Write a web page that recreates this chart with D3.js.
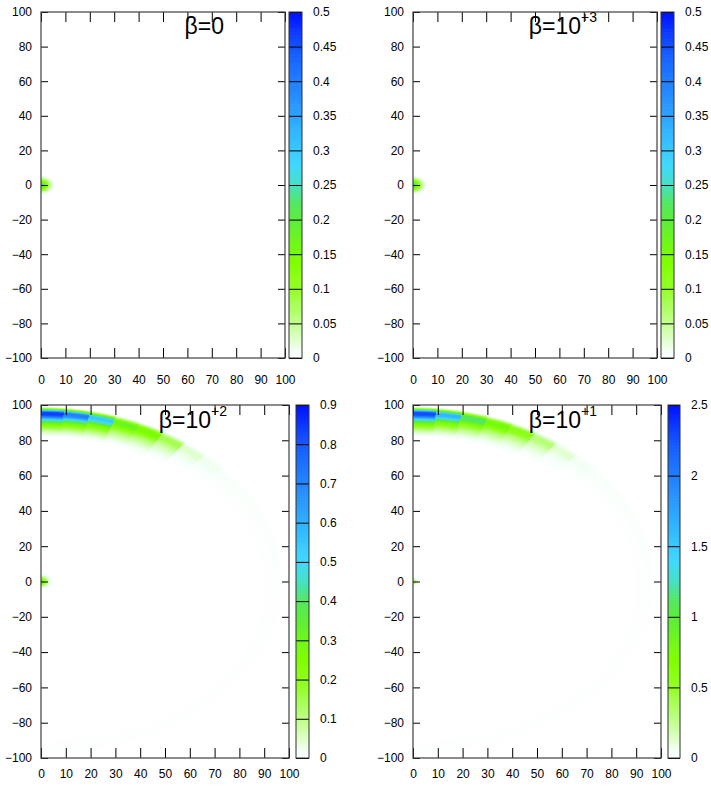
<!DOCTYPE html>
<html>
<head>
<meta charset="utf-8">
<script src="https://cdn.jsdelivr.net/npm/d3@7"></script>
<style>
body { margin: 0; background: #fff; }
text { font-family: "Liberation Sans", Arial, sans-serif; }
</style>
</head>
<body>
<div id="chart"></div>
<script>
// ejes y etiquetas
const xTickValues = [0, 10, 20, 30, 40, 50, 60, 70, 80, 90, 100]
const yTickValues = [-100, -80, -60, -40, -20, 0, 20, 40, 60, 80, 100]
const cbTicksA = [0, 0.05, 0.1, 0.15, 0.2, 0.25, 0.3, 0.35, 0.4, 0.45, 0.5]
const cbTicksC = [0, 0.1, 0.2, 0.3, 0.4, 0.5, 0.6, 0.7, 0.8, 0.9]
const cbTicksD = [0, 0.5, 1, 1.5, 2, 2.5]
const betaBase = ["0", "10", "10", "10"]
const betaExp = ["", "+3", "+2", "+1"]
const cbMax = [0.5, 0.5, 0.9, 2.5]

// mancha en el origen: valor segun distancia
const spotDist = [0, 1, 2, 3, 4, 5, 6]
const spotA = [0.45, 0.2, 0.15, 0.09, 0.04, 0.015, 0]
const spotB = [0.45, 0.2, 0.15, 0.09, 0.04, 0.015, 0]
const spotC = [0.5, 0.25, 0.15, 0.06, 0.02, 0.005, 0]
const spotD = [0.8, 0.3, 0.05, 0, 0, 0, 0]

// anillo: perfil radial y picos por sector angular (desde +y, cada 6.2 grados)
const ringRadius = 95
const ringBinStart = -0.7
const ringBinWidth = 6.2
const ringOffset = [-13, -10, -7, -5, -4, -3, -2, -1, 0, 1, 2, 3, 4]
const ringShape = [0, 0.08, 0.24, 0.4, 0.5, 0.63, 0.8, 0.95, 1, 0.95, 0.6, 0.2, 0]
const ringPeaksC = [0.85, 0.72, 0.55, 0.32, 0.27, 0.15, 0.05, 0.025, 0.014, 0.011, 0.009, 0.008,
    0.007, 0.007, 0.006, 0.006, 0.005, 0.005, 0.005, 0.004, 0.004, 0.004, 0.004, 0.004,
    0.004, 0.005, 0.005, 0.006, 0.006, 0.006]
const ringPeaksD = [2.3, 1.65, 1.15, 0.8, 0.6, 0.32, 0.13, 0.06, 0.035, 0.028, 0.024, 0.022,
    0.02, 0.019, 0.018, 0.017, 0.016, 0.015, 0.014, 0.013, 0.012, 0.012, 0.012, 0.012,
    0.012, 0.013, 0.014, 0.015, 0.016, 0.016]

// paleta
const cmapStops = [0, 0.02, 0.1, 0.2, 0.28, 0.38, 0.45, 0.5, 0.56, 0.65, 0.75, 0.85, 0.92, 1]
const cmapColors = ["#ffffff", "#f4fff8", "#c4ff94", "#94ff28", "#80ff00", "#62f030", "#52e862",
    "#48e0c2", "#40d8ff", "#32b8ff", "#2890ff", "#1a6cff", "#1048ff", "#0010ff"]
const cmap = d3.scaleLinear().domain(cmapStops).range(cmapColors).clamp(true)
const lut = d3.range(512).map(i => d3.rgb(cmap(i / 511)))

const width = 711
const height = 791

const panels = [
    {x0: 41, x1: 285, y0: 12, y1: 358, cb0: 289, cb1: 302, tx: 224, ty: 34, pad: 17,
        ticks: cbTicksA, spot: spotA, ring: null},
    {x0: 413, x1: 657, y0: 12, y1: 358, cb0: 661, cb1: 674, tx: 597, ty: 34, pad: 17,
        ticks: cbTicksA, spot: spotB, ring: null},
    {x0: 41, x1: 289, y0: 405, y1: 758, cb0: 296, cb1: 309, tx: 227, ty: 428, pad: 11,
        ticks: cbTicksC, spot: spotC, ring: ringPeaksC},
    {x0: 413, x1: 661, y0: 405, y1: 758, cb0: 668, cb1: 680, tx: 597, ty: 428, pad: 11,
        ticks: cbTicksD, spot: spotD, ring: ringPeaksD}
]

const svg = d3.select("#chart")
    .append("svg")
    .attr("width", width)
    .attr("height", height)

const shape = d3.scaleLinear().domain(ringOffset).range(ringShape).clamp(true)

panels.forEach((p, i) => {
    const max = cbMax[i]
    const x = d3.scaleLinear().domain([0, 100]).range([p.x0, p.x1])
    const y = d3.scaleLinear().domain([-100, 100]).range([p.y1, p.y0])
    const spot = d3.scaleLinear().domain(spotDist).range(p.spot).clamp(true)
    const g = svg.append("g").attr("class", "panel")

    // mapa de calor pixel a pixel
    const w = p.x1 - p.x0, h = p.y1 - p.y0
    const canvas = document.createElement("canvas")
    canvas.width = w
    canvas.height = h
    const ctx = canvas.getContext("2d")
    const img = ctx.createImageData(w, h)
    for (let j = 0; j < h; j++) {
        for (let k = 0; k < w; k++) {
            const dx = x.invert(p.x0 + k + 0.5)
            const dy = y.invert(p.y0 + j + 0.5)
            const r = Math.hypot(dx, dy)
            let v = spot(r)
            if (p.ring) {
                const th = Math.atan2(dx, dy) * 180 / Math.PI
                const bin = Math.max(0, Math.min(p.ring.length - 1, Math.floor((th - ringBinStart) / ringBinWidth)))
                v += p.ring[bin] * shape(r - ringRadius)
            }
            const c = lut[Math.round(Math.min(1, v / max) * 511)]
            const o = (j * w + k) * 4
            img.data[o] = c.r
            img.data[o + 1] = c.g
            img.data[o + 2] = c.b
            img.data[o + 3] = 255
        }
    }
    ctx.putImageData(img, 0, 0)
    g.append("image")
        .attr("href", canvas.toDataURL())
        .attr("x", p.x0).attr("y", p.y0)
        .attr("width", w).attr("height", h)

    // ejes
    const fmt = d3.format("~g")
    const axB = g.append("g").attr("transform", `translate(0, ${p.y1})`)
        .call(d3.axisBottom(x).tickValues(xTickValues).tickSize(-10).tickPadding(p.pad).tickFormat(fmt))
    const axT = g.append("g").attr("transform", `translate(0, ${p.y0})`)
        .call(d3.axisTop(x).tickValues(xTickValues).tickSize(-10).tickFormat(""))
    const axL = g.append("g").attr("transform", `translate(${p.x0}, 0)`)
        .call(d3.axisLeft(y).tickValues(yTickValues).tickSize(-7).tickPadding(9).tickFormat(fmt))
    const axR = g.append("g").attr("transform", `translate(${p.x1}, 0)`)
        .call(d3.axisRight(y).tickValues(yTickValues).tickSize(-7).tickFormat(""))
    ;[axB, axT, axL, axR].forEach(a => {
        a.select(".domain").remove()
        a.selectAll("line").attr("stroke", "#000")
        a.selectAll("text").attr("font-size", 12).attr("fill", "#000")
            .style("font-family", '"Liberation Sans", Arial, sans-serif')
    })
    g.append("rect")
        .attr("x", p.x0).attr("y", p.y0)
        .attr("width", w).attr("height", h)
        .attr("fill", "none").attr("stroke", "#404040").attr("stroke-width", 1.2)

    // barra de color
    const cb = d3.scaleLinear().domain([0, max]).range([p.y1, p.y0])
    const steps = d3.range(120)
    const sh = h / steps.length
    g.append("g").selectAll("rect").data(steps).enter()
        .append("rect")
        .attr("x", p.cb0)
        .attr("y", d => p.y1 - (d + 1) * sh)
        .attr("width", p.cb1 - p.cb0)
        .attr("height", sh + 0.6)
        .attr("fill", d => cmap((d + 0.5) / steps.length))
    const axC = g.append("g").attr("transform", `translate(${p.cb1}, 0)`)
        .call(d3.axisRight(cb).tickValues(p.ticks).tickSize(-(p.cb1 - p.cb0)).tickPadding(11).tickFormat(fmt))
    axC.select(".domain").remove()
    axC.selectAll("line").attr("stroke", "#000")
    axC.selectAll("text").attr("font-size", 12).attr("fill", "#000")
        .style("font-family", '"Liberation Sans", Arial, sans-serif')
    g.append("rect")
        .attr("x", p.cb0).attr("y", p.y0)
        .attr("width", p.cb1 - p.cb0).attr("height", h)
        .attr("fill", "none").attr("stroke", "#303030").attr("stroke-width", 1)

    // titulo
    const t = g.append("text")
        .attr("x", p.tx).attr("y", p.ty)
        .attr("text-anchor", "end")
        .attr("font-size", 23)
        .attr("fill", "#000")
    t.append("tspan").text("β=" + betaBase[i])
    if (betaExp[i]) {
        t.append("tspan").attr("dy", -12).attr("font-size", 14).text(betaExp[i])
    }
})
</script>
</body>
</html>
